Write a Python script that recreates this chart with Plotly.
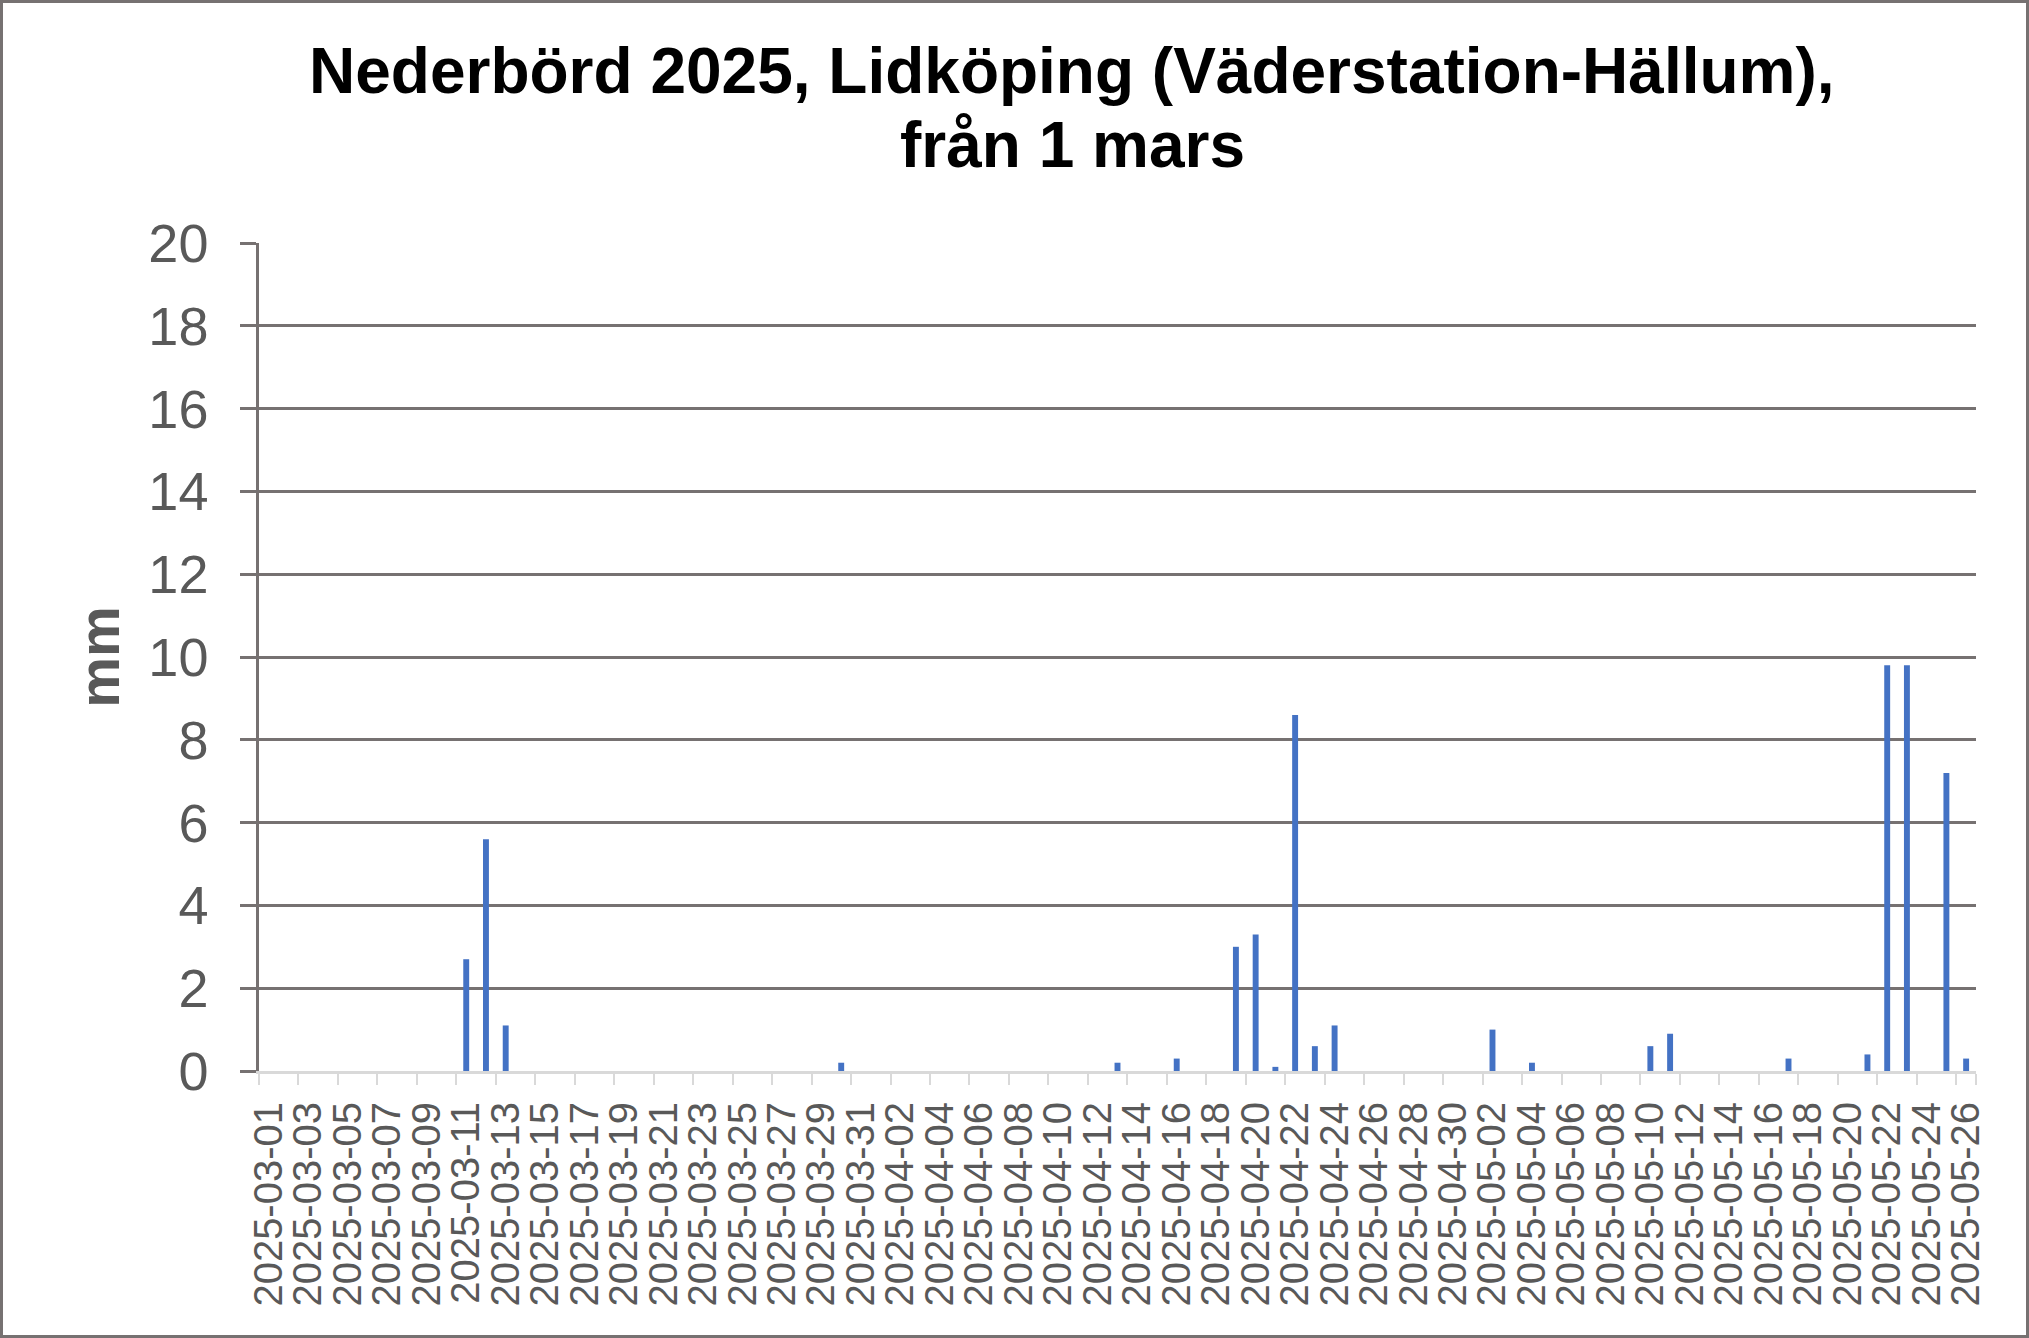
import plotly.graph_objects as go
import pandas as pd

# ---- data (mm per day) ----
march_mm = [0, 0, 0, 0, 0, 0, 0, 0, 0, 0,
            2.7, 5.6, 1.1, 0, 0, 0, 0, 0, 0, 0,
            0, 0, 0, 0, 0, 0, 0, 0, 0, 0.2, 0]
april_mm = [0, 0, 0, 0, 0, 0, 0, 0, 0, 0,
            0, 0, 0.2, 0, 0, 0.3, 0, 0, 3.0, 3.3,
            0.1, 8.6, 0.6, 1.1, 0, 0, 0, 0, 0, 0]
may_mm = [0, 1.0, 0, 0.2, 0, 0, 0, 0, 0, 0.6,
          0.9, 0, 0, 0, 0, 0, 0.3, 0, 0, 0,
          0.4, 9.8, 9.8, 0, 7.2, 0.3]

dates = [d.strftime("%Y-%m-%d") for d in pd.date_range("2025-03-01", "2025-05-26", freq="D")]
values = march_mm + april_mm + may_mm
tick_labels = dates[::2]
y_ticks = list(range(0, 21, 2))

title_lines = ["Nederbörd 2025, Lidköping (Väderstation-Hällum),", "från 1 mars"]
y_title = "mm"

# ---- layout geometry ----
W, H = 2029, 1338
L, R, T, B = 259, 53, 243, 267
PW, PH = W - L - R, H - T - B

FONT = "Liberation Sans, Arial, sans-serif"
GRID = "#767171"
LABEL = "#595959"
TITLE_SIZE = 64


def px_to_paper_y(py):
    return (H - B - py) / PH


def px_to_paper_x(px):
    return (px - L) / PW


fig = go.Figure(
    go.Bar(
        x=dates,
        y=values,
        marker=dict(color="#4472C4", line=dict(width=0)),
        width=0.3,
        hoverinfo="x+y",
    )
)

fig.update_layout(
    width=W,
    height=H,
    margin=dict(l=L, r=R, t=T, b=B, autoexpand=False),
    paper_bgcolor="white",
    plot_bgcolor="white",
    showlegend=False,
    font=dict(family=FONT, color=LABEL),
    xaxis=dict(
        type="category",
        tickmode="array",
        tickvals=tick_labels,
        ticktext=tick_labels,
        tickson="boundaries",
        tickangle=-90,
        tickfont=dict(family=FONT, size=40, color=LABEL),
        ticks="outside",
        ticklen=11,
        tickwidth=2,
        tickcolor="#D9D9D9",
        showline=True,
        linecolor="#D9D9D9",
        linewidth=3,
        showgrid=False,
        ticklabelstandoff=12,
        automargin=False,
        range=[-0.5, len(dates) - 0.5],
    ),
    yaxis=dict(
        range=[0, 20],
        tickmode="array",
        tickvals=y_ticks,
        tickfont=dict(family=FONT, size=54, color=LABEL),
        ticks="outside",
        ticklen=16,
        tickwidth=2.5,
        tickcolor=GRID,
        showline=True,
        linecolor=GRID,
        linewidth=2.5,
        showgrid=True,
        gridcolor=GRID,
        gridwidth=2.5,
        zeroline=False,
        ticklabelstandoff=21,
        automargin=False,
        title=dict(
            text=y_title,
            font=dict(family=FONT, size=57, color=LABEL, weight="bold"),
            standoff=11,
        ),
    ),
    bargap=0.7,
)

# two-line chart title (baselines at ~93 px and ~167 px from top)
for line, baseline in zip(title_lines, [93, 167]):
    fig.add_annotation(
        text=line,
        xref="paper",
        yref="paper",
        x=px_to_paper_x(1072),
        y=px_to_paper_y(baseline - 0.35 * TITLE_SIZE),
        xanchor="center",
        yanchor="middle",
        showarrow=False,
        font=dict(family=FONT, size=TITLE_SIZE, color="black", weight="bold"),
    )

# outer chart border
fig.add_shape(
    type="rect",
    xref="paper",
    yref="paper",
    x0=px_to_paper_x(1.5),
    x1=px_to_paper_x(W - 1.5),
    y0=px_to_paper_y(H - 1.5),
    y1=px_to_paper_y(1.5),
    line=dict(color=GRID, width=3),
    fillcolor="rgba(0,0,0,0)",
    layer="above",
)

fig.write_html(
    "out.html",
    config={"displayModeBar": False},
    post_script="document.body.style.margin='0px';document.body.style.overflow='hidden';",
)
